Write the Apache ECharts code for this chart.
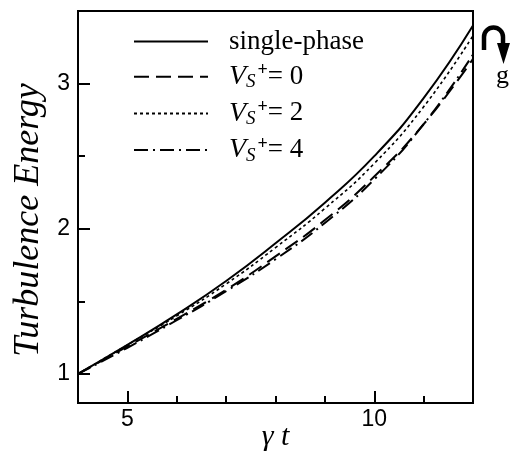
<!DOCTYPE html>
<html>
<head>
<meta charset="utf-8">
<script src="https://cdn.jsdelivr.net/npm/echarts@6/dist/echarts.min.js"></script>
<style>
  html, body { margin: 0; padding: 0; background: #fff; }
  #chart { width: 514px; height: 452px; }
</style>
</head>
<body>
<div id="chart"></div>
<script>
const gammaT = [4, 5, 6, 7, 8, 9, 10, 11, 12];
const singlePhase = [1.0, 1.2, 1.41, 1.64, 1.9, 2.18, 2.5, 2.9, 3.4];
const vs0 = [1.0, 1.19, 1.38, 1.58, 1.81, 2.06, 2.36, 2.72, 3.17];
const vs2 = [1.0, 1.2, 1.40, 1.62, 1.87, 2.14, 2.45, 2.84, 3.33];
const vs4 = [1.0, 1.18, 1.37, 1.57, 1.79, 2.04, 2.34, 2.72, 3.2];
const xMajor = [5, 10], xMinor = [6, 7, 8, 9, 11];
const yMajor = [1, 2, 3], yMinor = [1.5, 2.5];

const serif = '"Liberation Serif", "DejaVu Serif", serif';
const sans = '"Liberation Sans", Arial, sans-serif';
const pair = arr => gammaT.map((x, i) => [x, arr[i]]);

const chart = echarts.init(document.getElementById('chart'));

function line(name, data, type, width) {
    return {
        name: name,
        type: 'line',
        data: pair(data),
        smooth: true,
        showSymbol: false,
        symbol: 'none',
        lineStyle: { color: '#000', width: width, type: type },
        itemStyle: { color: '#000' }
    };
}

function legendText(name) {
    if (name === 'single') return '{t|single-phase}';
    const n = name.slice(2);
    return '{v|V}{s|S}{p|+}{t|= ' + n + '}';
}

const axisBase = {
    type: 'value',
    axisLine: { show: false },
    splitLine: { show: false }
};

const tickStyle = { color: '#000', width: 2 };

chart.setOption({
    animation: false,
    grid: {
        left: 78, right: 41, top: 11, bottom: 49,
        outerBoundsMode: 'none',
        containLabel: false,
        show: true, borderColor: '#000', borderWidth: 2
    },
    legend: {
        orient: 'vertical',
        left: 128,
        top: 23,
        itemWidth: 74,
        itemHeight: 14,
        itemGap: 6.7,
        itemStyle: { opacity: 0 },
        data: ['single', 'Vs0', 'Vs2', 'Vs4'],
        formatter: legendText,
        textStyle: {
            color: '#000',
            padding: [0, 0, 0, 16],
            rich: {
                t: { fontFamily: serif, fontSize: 27, lineHeight: 30, color: '#000' },
                v: { fontFamily: serif, fontStyle: 'italic', fontSize: 28, lineHeight: 30, color: '#000' },
                s: { fontFamily: serif, fontStyle: 'italic', fontSize: 19, lineHeight: 30, color: '#000', verticalAlign: 'bottom', padding: [8, 0, 0, 0] },
                p: { fontFamily: serif, fontSize: 18, fontWeight: 'bold', lineHeight: 30, color: '#000', verticalAlign: 'top', padding: [0, 0, 12, 2] }
            }
        }
    },
    xAxis: [
        Object.assign({}, axisBase, {
            min: 4, max: 12,
            position: 'bottom',
            axisLine: { show: true, lineStyle: tickStyle },
            axisTick: { inside: true, length: 12, customValues: xMajor, lineStyle: tickStyle },
            axisLabel: { customValues: xMajor, color: '#000', fontFamily: sans, fontSize: 23, margin: 5 },
            name: 'γ t',
            nameLocation: 'middle',
            nameGap: 19,
            nameMoveOverlap: false,
            nameTextStyle: { fontFamily: serif, fontStyle: 'italic', fontSize: 30, color: '#000' }
        }),
        Object.assign({}, axisBase, {
            min: 4, max: 12,
            position: 'bottom',
            offset: 0,
            axisTick: { inside: true, length: 7, customValues: xMinor, lineStyle: tickStyle },
            axisLabel: { show: false }
        })
    ],
    yAxis: [
        Object.assign({}, axisBase, {
            min: 0.8, max: 3.5,
            position: 'left',
            axisLine: { show: true, lineStyle: tickStyle },
            axisTick: { inside: true, length: 12, customValues: yMajor, lineStyle: tickStyle },
            axisLabel: { customValues: yMajor, color: '#000', fontFamily: sans, fontSize: 23, margin: 8 },
            name: 'Turbulence Energy',
            nameLocation: 'middle',
            nameGap: 29,
            nameTextStyle: { fontFamily: serif, fontStyle: 'italic', fontSize: 36, color: '#000', padding: [0, 26, 0, 0] }
        }),
        Object.assign({}, axisBase, {
            min: 0.8, max: 3.5,
            position: 'left',
            offset: 0,
            axisTick: { inside: true, length: 7, customValues: yMinor, lineStyle: tickStyle },
            axisLabel: { show: false }
        })
    ],
    graphic: [
        {
            type: 'arc',
            shape: { cx: 493.5, cy: 37, r: 9.5, startAngle: Math.PI, endAngle: 2 * Math.PI, clockwise: true },
            style: { fill: null, stroke: '#000', lineWidth: 4.5 }
        },
        {
            type: 'line',
            shape: { x1: 484, y1: 37, x2: 484, y2: 50 },
            style: { stroke: '#000', lineWidth: 4.5 }
        },
        {
            type: 'line',
            shape: { x1: 503, y1: 37, x2: 503, y2: 45 },
            style: { stroke: '#000', lineWidth: 4.5 }
        },
        {
            type: 'polygon',
            shape: { points: [[497, 43], [510, 43], [503.5, 64]] },
            style: { fill: '#000' }
        },
        {
            type: 'text',
            left: 496, top: 63,
            style: { text: 'g', fontFamily: serif, fontSize: 26, fill: '#000' }
        }
    ],
    series: [
        line('single', singlePhase, 'solid', 2),
        line('Vs0', vs0, [15, 7], 2),
        line('Vs2', vs2, [3, 3], 1.6),
        line('Vs4', vs4, [14, 5, 2, 5], 2)
    ]
});
</script>
</body>
</html>
